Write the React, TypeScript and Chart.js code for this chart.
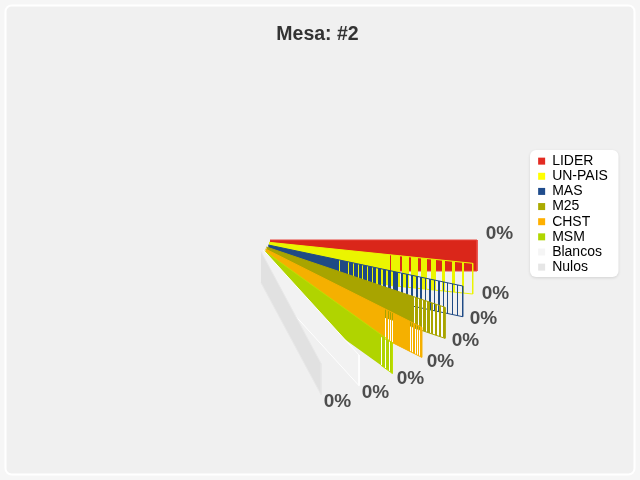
import React, { useEffect, useRef } from "react";
import { Chart, registerables } from "chart.js";

Chart.register(...registerables);

const titleText = "Mesa: #2";
const categories = ["LIDER", "UN-PAIS", "MAS", "M25", "CHST", "MSM", "Blancos", "Nulos"];
const shares = ["0%", "0%", "0%", "0%", "0%", "0%", "0%", "0%"];

// Ribbon geometry, in axis units.
const apexX = [270, 269, 268.3, 266.5, 265.5, 264.5, 263.3, 261];
const apexY = [240, 242.3, 245, 247, 249, 251, 250, 251.7];
const tipX = [477, 472.7, 462.7, 445, 421.7, 392.3, 359, 321.3];
const tipY = [240, 263.3, 286, 307.3, 327.3, 342.7, 355, 364];
const thickness = [31, 30.7, 30.7, 31, 30, 30.7, 30.7, 31];

const labelX = [499.5, 495.5, 483.5, 465.5, 440.5, 410.5, 375.5, 337.5];
const labelY = [234, 294, 319, 341, 362, 379, 393, 402];

type Gap = [number, number];
const gapsLider: Gap[] = [];
const gapsUnPais: Gap[] = [[390, 391], [400, 402], [409, 411], [418, 421], [427, 431], [436, 442], [445, 452], [455, 462], [464, 472]];
const gapsMas: Gap[] = [[339, 340], [348, 349], [353, 354], [358, 359], [362, 363], [367, 368], [372, 373], [376, 378], [381, 383], [386, 388], [391, 393], [398, 401], [403, 406], [408, 411], [413, 416], [418, 420], [422, 425], [426, 429], [431, 434], [435, 438], [440, 443], [444, 447], [448, 452], [453, 457], [458, 462]];
const gapsM25: Gap[] = [[414, 415], [418, 419], [422, 423], [426, 427], [430, 431], [433, 435], [437, 439], [441, 443]];
const gapsChst: Gap[] = [[385, 386], [388, 389], [390, 391], [392, 393], [410, 411], [412, 413], [415, 416], [417, 418], [419, 420]];
const gapsMsm: Gap[] = [[381, 382], [385, 386], [389, 390]];
const gapsBlancos: Gap[] = [];
const gapsNulos: Gap[] = [];
const allGaps = [gapsLider, gapsUnPais, gapsMas, gapsM25, gapsChst, gapsMsm, gapsBlancos, gapsNulos];

const fillColors = ["#da261a", "#ebf500", "#1f4a85", "#a8a400", "#f5b000", "#b0d400", "#f2f2f2", "#e1e1e1"];
const edgeColors = ["#e8453c", "#ebf500", "#1f4a85", "#a8a400", "#f5b000", "#bfe000", "#ffffff", "#e8e8e8"];
const legendColors = ["#e32b22", "#ffff00", "#204c8c", "#aaaa00", "#ffb000", "#b0d600", "#f5f5f5", "#e6e6e6"];
// Hatched zones that show white through their gaps: [series index, from x, to x]
const backings: [number, number, number][] = [[3, 414, 445], [4, 385, 394], [4, 410, 421.7], [5, 381, 392.3]];

const topAt = (i: number, x: number) => apexY[i] + ((x - apexX[i]) / (tipX[i] - apexX[i])) * (tipY[i] - apexY[i]);

function ribbon(i: number) {
  const pts: { x: number; y: number }[] = [
    { x: apexX[i], y: apexY[i] },
    { x: tipX[i], y: tipY[i] },
    { x: tipX[i], y: tipY[i] + thickness[i] },
  ];
  [...allGaps[i]].reverse().forEach(([a, b]) => {
    pts.push({ x: b, y: topAt(i, b) + thickness[i] }, { x: b, y: topAt(i, b) }, { x: a, y: topAt(i, a) }, { x: a, y: topAt(i, a) + thickness[i] });
  });
  pts.push({ x: apexX[i], y: apexY[i] + thickness[i] });
  return pts;
}

function outline(i: number) {
  const start = allGaps[i].length ? allGaps[i][0][0] : apexX[i];
  return [
    { x: apexX[i], y: apexY[i] },
    { x: tipX[i], y: tipY[i] },
    { x: tipX[i], y: tipY[i] + thickness[i] },
    { x: start, y: topAt(i, start) + thickness[i] },
  ];
}

function backing([i, a, b]: [number, number, number]) {
  return [
    { x: a, y: topAt(i, a) },
    { x: b, y: topAt(i, b) },
    { x: b, y: topAt(i, b) + thickness[i] },
    { x: a, y: topAt(i, a) + thickness[i] },
  ];
}

function roundRect(ctx: CanvasRenderingContext2D, x: number, y: number, w: number, h: number, r: number) {
  ctx.beginPath();
  ctx.roundRect(x, y, w, h, r);
}

const framePlugin = {
  id: "frame",
  afterLayout(chart: any) {
    const W = chart.width, H = chart.height;
    const x = chart.scales.x, y = chart.scales.y;
    x.left = 0; x.right = W; x.width = W; x.top = 0; x.bottom = H; x.height = H;
    y.left = 0; y.right = W; y.width = W; y.top = 0; y.bottom = H; y.height = H;
    x.configure(); y.configure();
    chart.chartArea = { left: 0, top: 0, right: W, bottom: H, width: W, height: H };
    const lg = chart.legend;
    const lw = lg.width, lh = lg.height;
    lg.left = 537; lg.right = 537 + lw; lg.top = 153; lg.bottom = 153 + lh;
  },
  beforeDraw(chart: any) {
    const c: CanvasRenderingContext2D = chart.ctx;
    c.save();
    c.fillStyle = "#f6f6f6";
    c.fillRect(0, 0, chart.width, chart.height);
    roundRect(c, 5.5, 5.5, 629, 469, 6);
    c.fillStyle = "#f0f0f0";
    c.fill();
    c.strokeStyle = "#ffffff";
    c.lineWidth = 2;
    c.stroke();
    c.shadowColor = "rgba(0,0,0,0.12)";
    c.shadowBlur = 3;
    c.shadowOffsetY = 1;
    roundRect(c, 530, 150, 88.5, 127, 6);
    c.fillStyle = "#ffffff";
    c.fill();
    c.restore();
  },
  afterDatasetsDraw(chart: any) {
    const c: CanvasRenderingContext2D = chart.ctx;
    const x = chart.scales.x, y = chart.scales.y;
    c.save();
    c.font = "bold 19px 'Liberation Sans'";
    c.fillStyle = "#4d4d4d";
    c.textAlign = "center";
    c.textBaseline = "middle";
    shares.forEach((s, i) => c.fillText(s, x.getPixelForValue(labelX[i]), y.getPixelForValue(labelY[i])));
    c.restore();
  },
};

export default function App() {
  const ref = useRef<HTMLCanvasElement>(null);
  useEffect(() => {
    const common = { pointRadius: 0, tension: 0, showLine: true, clip: false };
    const mains = categories.map((label, i) => ({
      ...common,
      label,
      data: ribbon(i),
      backgroundColor: fillColors[i],
      borderWidth: 0,
      borderColor: "transparent",
      fill: "shape",
      order: 100 - i * 2,
    }));
    const edges = categories.map((label, i) => ({
      ...common,
      label: label + " edge",
      data: outline(i),
      backgroundColor: "transparent",
      borderColor: edgeColors[i],
      borderWidth: 1,
      fill: false,
      order: 99 - i * 2,
    }));
    const backs = backings.map((b, k) => ({
      ...common,
      label: "backing " + k,
      data: backing(b),
      backgroundColor: "#ffffff",
      borderWidth: 0,
      borderColor: "transparent",
      fill: "shape",
      order: 200,
    }));
    const chart = new Chart(ref.current as HTMLCanvasElement, {
      type: "scatter",
      data: { datasets: [...mains, ...edges, ...backs] as any },
      plugins: [framePlugin as any],
      options: {
        animation: false,
        responsive: false,
        layout: { padding: { right: 5 } },
        scales: {
          x: { type: "linear", display: false, min: 0, max: 640 },
          y: { type: "linear", display: false, min: 0, max: 480, reverse: true },
        },
        plugins: {
          tooltip: { enabled: false },
          title: {
            display: true,
            text: titleText,
            color: "#333333",
            font: { family: "'Liberation Sans'", size: 19.5, weight: "bold" },
            padding: { top: 23, bottom: 10 },
          },
          legend: {
            position: "right",
            align: "start",
            onClick: () => {},
            labels: {
              boxWidth: 7,
              boxHeight: 7,
              padding: 1.14,
              color: "#000000",
              font: { family: "'Liberation Sans'", size: 14, lineHeight: 1 },
              generateLabels: () =>
                categories.map((text, i) => ({
                  text,
                  fillStyle: legendColors[i],
                  strokeStyle: "transparent",
                  lineWidth: 0,
                  hidden: false,
                  datasetIndex: i,
                })),
            },
          },
        },
      } as any,
    });
    return () => chart.destroy();
  }, []);
  return <canvas ref={ref} width={640} height={480} style={{ position: "fixed", left: 0, top: 0, display: "block" }} />;
}
